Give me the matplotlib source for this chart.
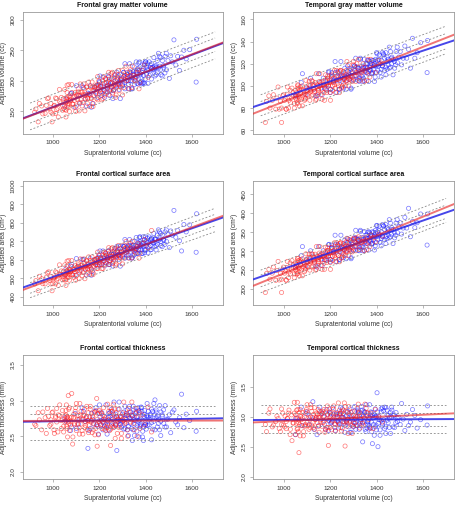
import matplotlib
matplotlib.use('Agg')
import matplotlib.pyplot as plt

plt.rcParams['font.family'] = ['Liberation Sans', 'DejaVu Sans']

# ---------------- data ----------------
x_women = [920, 935, 950, 965, 975, 985, 990, 998, 1005, 1010,
           1015, 1022, 1028, 1035, 1040, 1045, 1050, 1052, 1055, 1058,
           1060, 1062, 1065, 1068, 1070, 1075, 1080, 1084, 1088, 1092,
           1095, 1100, 1104, 1108, 1112, 1115, 1120, 1124, 1128, 1132,
           1135, 1140, 1144, 1148, 1152, 1155, 1160, 1164, 1168, 1172,
           1175, 1180, 1184, 1188, 1192, 1196, 1200, 1205, 1210, 1214,
           1218, 1222, 1226, 1230, 1235, 1240, 1244, 1248, 1252, 1256,
           1260, 1264, 1268, 1272, 1276, 1280, 1285, 1290, 1295, 1300,
           1305, 1310, 1316, 1322, 1328, 1335, 1342, 1350, 1358, 1366,
           1375, 1385, 1395, 1410, 1425, 1060, 1150, 1190, 1250, 1270,
           925, 940, 955, 970, 980, 990, 995, 1003, 1010, 1015,
           1020, 1027, 1033, 1040, 1045, 1050, 1055, 1057, 1060, 1063,
           1065, 1067, 1070, 1073, 1075, 1080, 1085, 1089, 1093, 1097,
           1100, 1105, 1109, 1113, 1117, 1120, 1125, 1129, 1133, 1137,
           1140, 1145, 1149, 1153, 1157, 1160, 1165, 1169, 1173, 1177,
           1180, 1185, 1189, 1193, 1197, 1201, 1205, 1210, 1215, 1219,
           1223, 1227, 1231, 1235, 1240, 1245, 1249, 1253, 1257, 1261,
           1265, 1269, 1273, 1277, 1281, 1285, 1290, 1295, 1300, 1305,
           1310, 1315, 1321, 1327, 1333, 1340, 1347, 1355, 1363, 1371]

x_men = [1050, 1075, 1095, 1110, 1125, 1138, 1150, 1160, 1170, 1180,
         1188, 1195, 1202, 1210, 1216, 1222, 1228, 1234, 1240, 1246,
         1252, 1258, 1264, 1270, 1275, 1280, 1285, 1290, 1295, 1300,
         1305, 1310, 1315, 1320, 1325, 1330, 1334, 1338, 1342, 1346,
         1350, 1354, 1358, 1362, 1366, 1370, 1374, 1378, 1382, 1386,
         1390, 1394, 1398, 1402, 1406, 1410, 1415, 1420, 1425, 1430,
         1435, 1440, 1445, 1450, 1455, 1460, 1466, 1472, 1478, 1484,
         1490, 1496, 1502, 1508, 1515, 1522, 1530, 1538, 1546, 1555,
         1565, 1575, 1590, 1620, 1618, 1360, 1380, 1400, 1290, 1260,
         1320, 1340, 1370, 1390, 1420, 1440, 1235, 1200, 1310, 1465,
         1055, 1080, 1100, 1115, 1130, 1143, 1155, 1165, 1175, 1185,
         1193, 1200, 1207, 1215, 1221, 1227, 1233, 1239, 1245, 1251,
         1257, 1263, 1269, 1275, 1280, 1285, 1290, 1295, 1300, 1305,
         1310, 1315, 1320, 1325, 1330, 1335, 1339, 1343, 1347, 1351,
         1355, 1359, 1363, 1367, 1371, 1375, 1379, 1383, 1387, 1391,
         1395, 1399, 1403, 1407, 1411, 1415, 1420, 1425, 1430, 1435,
         1440, 1445, 1450, 1455, 1460, 1465, 1471, 1477, 1483, 1489,
         1325, 1345, 1375, 1395, 1425, 1445, 1240, 1205]

fgmv_women = [149, 133, 159, 147, 171, 154, 163, 146, 160, 172,
              153, 141, 166, 173, 160, 155, 186, 164, 152, 171,
              181, 162, 157, 175, 150, 169, 194, 162, 173, 168,
              181, 159, 178, 187, 151, 176, 169, 182, 165, 195,
              176, 171, 190, 163, 184, 178, 190, 172, 198, 158,
              185, 191, 180, 171, 207, 189, 179, 192, 169, 200,
              186, 196, 204, 180, 192, 177, 203, 197, 188, 214,
              184, 195, 201, 177, 206, 210, 194, 190, 202, 217,
              189, 209, 200, 214, 187, 209, 224, 201, 207, 218,
              197, 217, 226, 206, 220, 193, 171, 194, 212, 173,
              154, 163, 146, 160, 172, 149, 133, 159, 147, 171,
              155, 186, 164, 152, 171, 153, 141, 166, 173, 160,
              169, 194, 162, 173, 168, 181, 162, 157, 175, 150,
              176, 169, 182, 165, 195, 181, 159, 178, 187, 151,
              178, 190, 172, 198, 158, 176, 171, 190, 163, 184,
              189, 179, 192, 169, 200, 185, 191, 180, 171, 207,
              177, 203, 197, 188, 214, 186, 196, 204, 180, 192,
              210, 194, 190, 202, 217, 184, 195, 201, 177, 206,
              209, 224, 201, 207, 218, 189, 209, 200, 214, 187]
fgmv_men = [159, 179, 157, 176, 192, 170, 180, 192, 163, 189,
            182, 193, 208, 176, 190, 173, 197, 191, 206, 184,
            198, 171, 205, 192, 214, 196, 186, 210, 203, 194,
            214, 187, 205, 210, 194, 228, 200, 207, 187, 215,
            223, 205, 214, 196, 220, 203, 231, 211, 195, 217,
            209, 226, 203, 222, 218, 196, 231, 211, 228, 218,
            238, 208, 225, 213, 245, 224, 210, 233, 221, 240,
            218, 233, 204, 241, 231, 267, 226, 240, 217, 239,
            250, 236, 251, 268, 198, 216, 198, 231, 202, 184,
            211, 200, 229, 197, 222, 220, 182, 199, 197, 219,
            170, 180, 192, 163, 189, 159, 179, 157, 176, 192,
            173, 197, 191, 206, 184, 182, 193, 208, 176, 190,
            196, 186, 210, 203, 194, 198, 171, 205, 192, 214,
            228, 200, 207, 187, 215, 214, 187, 205, 210, 194,
            203, 231, 211, 195, 217, 223, 205, 214, 196, 220,
            196, 231, 211, 228, 218, 209, 226, 203, 222, 218,
            224, 210, 233, 221, 240, 238, 208, 225, 213, 245,
            200, 211, 197, 229, 220, 222, 199, 182]

tgmv_women = [67, 91, 87, 79, 99, 86, 80, 92, 89, 79,
              92, 87, 85, 98, 91, 80, 96, 89, 94, 84,
              100, 92, 87, 89, 99, 97, 82, 96, 93, 88,
              105, 92, 97, 101, 87, 96, 91, 104, 100, 95,
              103, 88, 101, 94, 100, 111, 92, 97, 104, 101,
              87, 110, 96, 107, 101, 105, 94, 109, 100, 103,
              114, 98, 108, 102, 106, 94, 114, 109, 100, 113,
              106, 109, 104, 122, 109, 100, 114, 105, 108, 119,
              114, 104, 112, 124, 108, 112, 120, 117, 105, 113,
              124, 119, 112, 123, 120, 101, 96, 107, 99, 110,
              86, 80, 92, 89, 79, 67, 91, 87, 79, 99,
              80, 96, 89, 94, 84, 92, 87, 85, 98, 91,
              97, 82, 96, 93, 88, 100, 92, 87, 89, 99,
              96, 91, 104, 100, 95, 105, 92, 97, 101, 87,
              111, 92, 97, 104, 101, 103, 88, 101, 94, 100,
              105, 94, 109, 100, 103, 87, 110, 96, 107, 101,
              94, 114, 109, 100, 113, 114, 98, 108, 102, 106,
              100, 114, 105, 108, 119, 106, 109, 104, 122, 109,
              112, 120, 117, 105, 113, 114, 104, 112, 124, 108]
tgmv_men = [91, 103, 92, 98, 101, 91, 111, 98, 107, 97,
            105, 113, 97, 109, 104, 112, 94, 112, 105, 122,
            109, 98, 112, 105, 118, 110, 116, 97, 113, 106,
            118, 109, 117, 105, 113, 125, 109, 116, 107, 124,
            114, 120, 112, 123, 104, 117, 120, 111, 123, 115,
            120, 108, 118, 129, 114, 124, 112, 123, 118, 128,
            125, 110, 122, 119, 135, 117, 126, 124, 116, 131,
            121, 126, 131, 119, 125, 136, 125, 133, 116, 143,
            125, 130, 139, 141, 112, 116, 111, 130, 115, 107,
            116, 104, 122, 118, 115, 130, 108, 97, 117, 120,
            91, 111, 98, 107, 97, 91, 103, 92, 98, 101,
            112, 94, 112, 105, 122, 105, 113, 97, 109, 104,
            110, 116, 97, 113, 106, 109, 98, 112, 105, 118,
            125, 109, 116, 107, 124, 118, 109, 117, 105, 113,
            117, 120, 111, 123, 115, 114, 120, 112, 123, 104,
            124, 112, 123, 118, 128, 120, 108, 118, 129, 114,
            117, 126, 124, 116, 131, 125, 110, 122, 119, 135,
            104, 116, 118, 122, 130, 115, 97, 108]

fsa_women = [469, 432, 497, 469, 529, 487, 510, 470, 505, 534,
             490, 461, 522, 539, 510, 498, 572, 521, 491, 538,
             563, 517, 504, 549, 489, 535, 595, 519, 547, 534,
             567, 514, 560, 582, 497, 556, 541, 572, 530, 604,
             560, 547, 593, 528, 579, 566, 594, 553, 615, 519,
             584, 601, 573, 552, 641, 596, 572, 606, 551, 625,
             592, 617, 636, 580, 609, 573, 636, 623, 602, 665,
             591, 619, 636, 577, 648, 659, 620, 611, 639, 676,
             609, 658, 637, 672, 608, 661, 699, 644, 660, 687,
             636, 687, 709, 664, 758, 592, 549, 608, 659, 567,
             487, 510, 470, 505, 534, 469, 432, 497, 469, 529,
             498, 572, 521, 491, 538, 490, 461, 522, 539, 510,
             535, 595, 519, 547, 534, 563, 517, 504, 549, 489,
             556, 541, 572, 530, 604, 567, 514, 560, 582, 497,
             566, 594, 553, 615, 519, 560, 547, 593, 528, 579,
             596, 572, 606, 551, 625, 584, 601, 573, 552, 641,
             573, 636, 623, 602, 665, 592, 617, 636, 580, 609,
             659, 620, 611, 639, 676, 591, 619, 636, 577, 648,
             661, 699, 644, 660, 687, 609, 658, 637, 672, 608]
fsa_men = [517, 566, 516, 564, 602, 550, 575, 606, 538, 600,
           583, 612, 647, 573, 607, 566, 624, 609, 647, 594,
           629, 565, 646, 616, 671, 626, 602, 660, 645, 624,
           672, 608, 651, 664, 626, 709, 641, 658, 610, 678,
           698, 656, 678, 633, 693, 651, 720, 672, 633, 687,
           669, 708, 655, 700, 690, 637, 723, 676, 716, 692,
           741, 670, 710, 683, 761, 711, 676, 733, 704, 750,
           698, 735, 665, 755, 732, 866, 721, 757, 702, 647,
           790, 750, 788, 848, 640, 658, 690, 650, 674, 629,
           621, 676, 654, 724, 653, 711, 610, 574, 674, 698,
           550, 575, 606, 538, 600, 517, 566, 516, 564, 602,
           566, 624, 609, 647, 594, 583, 612, 647, 573, 607,
           626, 602, 660, 645, 624, 629, 565, 646, 616, 671,
           709, 641, 658, 610, 678, 672, 608, 651, 664, 626,
           651, 720, 672, 633, 687, 698, 656, 678, 633, 693,
           637, 723, 676, 716, 692, 669, 708, 655, 700, 690,
           711, 676, 733, 704, 750, 741, 670, 710, 683, 761,
           676, 621, 724, 654, 711, 653, 574, 610]

tsa_women = [191, 252, 242, 223, 273, 241, 226, 258, 249, 224,
             257, 245, 240, 275, 256, 230, 269, 251, 265, 240,
             280, 260, 246, 254, 277, 274, 235, 271, 264, 250,
             293, 260, 274, 283, 250, 272, 258, 292, 283, 271,
             292, 252, 286, 268, 284, 312, 263, 277, 295, 288,
             252, 310, 276, 302, 288, 297, 270, 309, 286, 295,
             322, 282, 308, 292, 303, 272, 322, 312, 288, 320,
             303, 312, 298, 334, 312, 288, 324, 300, 310, 331,
             326, 301, 320, 338, 312, 322, 335, 328, 304, 324,
             343, 336, 325, 345, 340, 281, 272, 302, 284, 314,
             241, 226, 258, 249, 224, 191, 252, 242, 223, 273,
             230, 269, 251, 265, 240, 257, 245, 240, 275, 256,
             274, 235, 271, 264, 250, 280, 260, 246, 254, 277,
             272, 258, 292, 283, 271, 293, 260, 274, 283, 250,
             312, 263, 277, 295, 288, 292, 252, 286, 268, 284,
             297, 270, 309, 286, 295, 252, 310, 276, 302, 288,
             272, 322, 312, 288, 320, 322, 282, 308, 292, 303,
             288, 324, 300, 310, 331, 303, 312, 298, 334, 312,
             322, 335, 328, 304, 324, 326, 301, 320, 338, 312]
tsa_men = [258, 288, 262, 277, 287, 261, 312, 279, 301, 277,
           298, 318, 278, 308, 296, 317, 272, 316, 299, 342,
           310, 283, 318, 301, 333, 313, 329, 280, 323, 304,
           336, 313, 332, 302, 324, 355, 313, 330, 310, 352,
           326, 342, 321, 350, 303, 335, 343, 319, 351, 330,
           343, 314, 338, 367, 330, 355, 323, 351, 340, 366,
           357, 320, 349, 342, 383, 338, 362, 357, 335, 374,
           349, 364, 375, 345, 361, 389, 361, 413, 338, 378,
           362, 375, 398, 398, 316, 333, 319, 368, 327, 305,
           330, 301, 348, 338, 333, 370, 308, 278, 334, 345,
           261, 312, 279, 301, 277, 258, 288, 262, 277, 287,
           317, 272, 316, 299, 342, 298, 318, 278, 308, 296,
           313, 329, 280, 323, 304, 310, 283, 318, 301, 333,
           355, 313, 330, 310, 352, 336, 313, 332, 302, 324,
           335, 343, 319, 351, 330, 326, 342, 321, 350, 303,
           355, 323, 351, 340, 366, 343, 314, 338, 367, 330,
           338, 362, 357, 335, 374, 357, 320, 349, 342, 383,
           301, 330, 338, 348, 370, 333, 278, 308]

fth_women = [2.67, 2.83, 2.59, 2.76, 2.89, 2.65, 2.73, 2.84, 2.54, 2.78,
             2.70, 2.80, 2.94, 2.61, 2.74, 2.56, 2.79, 2.72, 2.86, 2.64,
             2.77, 2.49, 3.07, 2.68, 2.90, 2.71, 3.10, 2.39, 2.76, 2.66,
             2.85, 2.58, 2.74, 2.79, 2.62, 2.96, 2.67, 2.73, 2.53, 2.80,
             2.88, 2.70, 2.78, 2.59, 2.83, 2.65, 2.92, 2.72, 2.55, 2.77,
             2.68, 2.84, 2.61, 3.03, 2.74, 2.52, 2.86, 2.66, 2.82, 2.71,
             2.90, 2.60, 2.76, 2.64, 2.95, 2.73, 2.58, 2.37, 2.67, 2.85,
             2.62, 2.77, 2.47, 2.83, 2.72, 2.88, 2.65, 2.78, 2.54, 2.74,
             2.98, 2.68, 2.82, 2.50, 2.84, 2.70, 2.79, 2.59, 2.89, 2.76,
             2.61, 2.80, 2.66, 2.91, 2.56, 2.77, 2.72, 2.36, 2.85, 2.67,
             2.65, 2.73, 2.84, 2.54, 2.78, 2.67, 2.83, 2.59, 2.76, 2.89,
             2.56, 2.79, 2.72, 2.86, 2.64, 2.70, 2.80, 2.94, 2.61, 2.74,
             2.71, 2.88, 2.58, 2.76, 2.66, 2.77, 2.49, 2.81, 2.68, 2.90,
             2.96, 2.67, 2.73, 2.53, 2.80, 2.85, 2.58, 2.74, 2.79, 2.62,
             2.65, 2.92, 2.72, 2.55, 2.77, 2.88, 2.70, 2.78, 2.59, 2.83,
             2.52, 2.86, 2.66, 2.82, 2.71, 2.68, 2.84, 2.61, 2.79, 2.74,
             2.73, 2.58, 2.62, 2.67, 2.85, 2.90, 2.60, 2.76, 2.64, 2.95,
             2.88, 2.65, 2.78, 2.54, 2.74, 2.62, 2.77, 2.47, 2.83, 2.72,
             2.70, 2.79, 2.59, 2.89, 2.76, 2.98, 2.68, 2.82, 2.50, 2.84]
fth_men = [2.76, 2.58, 2.82, 2.67, 2.90, 2.71, 2.33, 2.61, 2.74, 2.85,
           2.66, 2.53, 2.77, 2.83, 2.70, 2.64, 2.94, 2.72, 2.59, 2.78,
           2.88, 2.68, 2.63, 2.81, 2.30, 2.74, 2.98, 2.66, 2.77, 2.71,
           2.84, 2.61, 2.79, 2.87, 2.51, 2.75, 2.68, 2.80, 2.44, 2.92,
           2.73, 2.67, 2.85, 2.57, 2.78, 2.72, 2.83, 2.65, 2.90, 2.49,
           2.44, 2.81, 2.69, 2.60, 2.96, 2.77, 2.66, 2.79, 2.45, 2.85,
           2.71, 2.80, 2.87, 2.63, 2.74, 2.59, 2.84, 2.78, 2.68, 2.93,
           2.63, 2.74, 2.80, 2.55, 2.84, 2.87, 2.70, 2.66, 2.76, 3.09,
           2.62, 2.81, 2.72, 2.85, 2.57, 2.77, 2.91, 2.67, 2.72, 2.81,
           2.59, 2.78, 2.86, 2.64, 2.76, 3.01, 2.65, 2.82, 2.92, 2.51,
           2.71, 2.63, 2.61, 2.74, 2.85, 2.76, 2.58, 2.82, 2.67, 2.90,
           2.64, 2.94, 2.72, 2.59, 2.78, 2.66, 2.53, 2.77, 2.83, 2.70,
           2.74, 2.98, 2.66, 2.77, 2.71, 2.88, 2.68, 2.63, 2.81, 2.60,
           2.75, 2.68, 2.80, 2.64, 2.92, 2.84, 2.61, 2.79, 2.87, 2.51,
           2.72, 2.83, 2.65, 2.90, 2.49, 2.73, 2.67, 2.85, 2.57, 2.78,
           2.77, 2.66, 2.79, 2.65, 2.85, 2.74, 2.81, 2.69, 2.60, 2.96,
           2.59, 2.84, 2.78, 2.68, 2.93, 2.71, 2.80, 2.87, 2.63, 2.74,
           2.78, 2.59, 2.64, 2.86, 2.88, 2.76, 2.82, 2.65]

tth_women = [2.87, 3.06, 2.83, 2.92, 2.97, 2.75, 3.13, 2.86, 3.01, 2.80,
             2.97, 3.11, 2.79, 2.60, 2.90, 3.06, 2.70, 3.03, 2.89, 3.24,
             2.98, 2.75, 2.40, 2.87, 3.12, 2.95, 3.07, 2.68, 3.00, 2.85,
             3.09, 2.90, 3.04, 2.79, 2.96, 3.20, 2.86, 2.99, 2.82, 3.15,
             2.95, 3.06, 2.90, 3.12, 2.74, 2.99, 3.04, 2.84, 3.09, 2.92,
             3.01, 2.78, 2.96, 3.18, 2.52, 3.08, 2.82, 3.03, 2.93, 3.13,
             3.06, 2.76, 2.98, 2.92, 3.23, 2.87, 3.05, 3.00, 2.81, 3.11,
             2.91, 2.51, 3.09, 2.84, 2.96, 3.17, 2.93, 3.07, 2.72, 3.02,
             2.89, 2.98, 3.14, 3.06, 2.81, 3.01, 2.86, 3.21, 3.07, 2.95,
             3.06, 2.80, 3.12, 3.00, 2.91, 3.12, 2.99, 2.82, 3.09, 2.92,
             2.75, 3.13, 2.86, 3.01, 2.80, 2.87, 3.06, 2.83, 2.92, 2.97,
             3.06, 2.70, 3.03, 2.89, 3.24, 2.97, 3.11, 2.79, 2.80, 2.90,
             2.95, 3.07, 2.68, 3.00, 2.85, 2.98, 2.75, 2.84, 2.87, 3.12,
             3.20, 2.86, 2.99, 2.82, 3.15, 3.09, 2.90, 3.04, 2.79, 2.96,
             2.99, 3.04, 2.84, 3.09, 2.92, 2.95, 3.06, 2.90, 3.12, 2.74,
             3.08, 2.82, 3.03, 2.93, 3.13, 3.01, 2.78, 2.96, 3.18, 2.88,
             2.87, 3.05, 3.00, 2.81, 3.11, 3.06, 2.76, 2.98, 2.92, 3.23,
             3.17, 2.93, 3.07, 2.72, 3.02, 2.91, 2.86, 3.09, 2.84, 2.96,
             3.01, 2.86, 3.21, 3.07, 2.95, 2.89, 2.98, 3.14, 3.06, 2.81]
tth_men = [2.70, 3.16, 3.05, 2.87, 3.25, 2.98, 2.85, 3.08, 3.00, 2.79,
           3.04, 2.94, 2.89, 3.15, 2.99, 2.77, 3.07, 2.92, 3.03, 2.82,
           3.13, 2.98, 2.86, 2.91, 3.09, 3.05, 2.74, 3.02, 2.95, 2.83,
           3.17, 2.90, 3.00, 3.07, 2.79, 2.96, 2.85, 3.11, 3.03, 2.92,
           3.08, 2.75, 3.02, 2.87, 2.99, 3.20, 2.81, 2.91, 2.55, 2.98,
           2.69, 3.13, 2.86, 3.40, 2.50, 3.00, 2.78, 3.08, 2.89, 2.95,
           3.16, 2.83, 3.03, 2.90, 2.98, 2.72, 3.11, 3.02, 2.82, 3.07,
           2.92, 2.99, 2.87, 3.22, 2.96, 2.77, 3.04, 2.85, 2.91, 3.12,
           3.02, 2.81, 2.95, 3.18, 2.86, 2.92, 3.07, 3.00, 2.74, 2.89,
           3.09, 2.58, 2.83, 3.03, 2.94, 3.15, 2.90, 3.05, 2.79, 2.99,
           2.98, 2.85, 3.08, 3.00, 2.79, 2.70, 3.16, 3.05, 2.87, 3.12,
           2.77, 3.07, 2.92, 3.03, 2.82, 3.04, 2.94, 2.89, 3.15, 2.99,
           3.05, 2.74, 3.02, 2.95, 2.83, 3.13, 2.98, 2.86, 2.91, 3.09,
           2.96, 2.85, 3.11, 3.03, 2.92, 3.17, 2.90, 3.00, 3.07, 2.79,
           3.20, 2.81, 2.91, 2.85, 2.98, 3.08, 2.75, 3.02, 2.87, 2.99,
           3.00, 2.78, 3.08, 2.89, 2.95, 2.69, 3.13, 2.86, 3.10, 2.80,
           2.72, 3.11, 3.02, 2.82, 3.07, 3.16, 2.83, 3.03, 2.90, 2.98,
           2.88, 3.09, 3.03, 2.83, 3.15, 2.94, 3.05, 2.90]

# fitted lines: value at x = 900 and x = 1700
fit_x = [900, 1700]
fgmv_fit_women = [142.6, 257.8]
fgmv_fit_men = [143.2, 256.8]
tgmv_fit_women = [77.6, 143.4]
tgmv_fit_men = [83.2, 138.7]
fsa_fit_women = [450.8, 821.0]
fsa_fit_men = [463.0, 813.0]
tsa_fit_women = [216.7, 415.7]
tsa_fit_men = [232.4, 401.8]
fth_fit_women = [2.715, 2.720]
fth_fit_men = [2.705, 2.750]
tth_fit_women = [2.910, 3.050]
tth_fit_men = [2.945, 2.960]

# dashed reference bands: (value at 900, value at 1700)
band_x = [900, 1700]
fgmv_bands = [(163.7, 280.0), (152.8, 270.0), (131.0, 248.0), (120.0, 236.0)]
tgmv_bands = [(92.0, 154.0), (85.9, 147.3), (73.0, 133.5), (66.8, 129.1)]
fsa_bands = [(499.5, 877.8), (475.7, 845.0), (418.4, 782.0), (394.6, 751.0)]
tsa_bands = [(250.0, 439.0), (237.0, 421.6), (206.0, 386.6), (190.4, 376.0)]
fth_bands = [(2.92, 2.92), (2.81, 2.81), (2.62, 2.62), (2.45, 2.45)]
tth_bands = [(3.19, 3.19), (3.06, 3.06), (2.85, 2.85), (2.72, 2.72)]

titles = ["Frontal gray matter volume", "Temporal gray matter volume",
          "Frontal cortical surface area", "Temporal cortical surface area",
          "Frontal cortical thickness", "Temporal cortical thickness"]
ylabels = ["Adjusted volume (cc)", "Adjusted volume (cc)",
           "Adjusted area (cm²)", "Adjusted area (cm²)",
           "Adjusted thickness (mm)", "Adjusted thickness (mm)"]
xlabel = "Supratentorial volume (cc)"
xticks = [1000, 1200, 1400, 1600]
yticks_list = [[150, 200, 250, 300], [60, 80, 100, 120, 140, 160],
               [400, 500, 600, 700, 800, 900, 1000], [200, 250, 300, 350, 400, 450],
               [2.0, 2.5, 3.0, 3.5], [2.0, 2.5, 3.0, 3.5]]
ylims = [(114, 313), (57, 167), (355, 1025), (158, 485), (1.90, 3.64), (1.96, 4.03)]

women_y = [fgmv_women, tgmv_women, fsa_women, tsa_women, fth_women, tth_women]
men_y = [fgmv_men, tgmv_men, fsa_men, tsa_men, fth_men, tth_men]
fits_w = [fgmv_fit_women, tgmv_fit_women, fsa_fit_women, tsa_fit_women, fth_fit_women, tth_fit_women]
fits_m = [fgmv_fit_men, tgmv_fit_men, fsa_fit_men, tsa_fit_men, fth_fit_men, tth_fit_men]
bands_all = [fgmv_bands, tgmv_bands, fsa_bands, tsa_bands, fth_bands, tth_bands]

# ---------------- layout ----------------
W, H = 455, 505
fig = plt.figure(figsize=(W / 100, H / 100), dpi=100)
fig.patch.set_facecolor('white')

cols = [(22.7, 222.5), (253.3, 453.5)]
rows = [(11.7, 133.5), (181.0, 305.0), (355.0, 479.0)]

frame_col = '#9a9a9a'
text_col = '#333333'

for i in range(6):
    r, c = divmod(i, 2)
    l, rr = cols[c]
    t, b = rows[r]
    ax = fig.add_axes([l / W, 1 - b / H, (rr - l) / W, (b - t) / H])

    ax.scatter(x_men, men_y[i], s=9, facecolors='none',
               edgecolors=(0.1, 0.1, 1.0, 0.6), linewidths=0.5, zorder=2)
    ax.scatter(x_women, women_y[i], s=9, facecolors='none',
               edgecolors=(1.0, 0.1, 0.1, 0.6), linewidths=0.5, zorder=3)

    for lo, hi in bands_all[i]:
        ax.plot(band_x, [lo, hi], color='#8a8a8a', lw=0.6,
                linestyle=(0, (2.2, 2.2)), zorder=4)

    ax.axline((fit_x[0], fits_m[i][0]), (fit_x[1], fits_m[i][1]),
              color=(0.15, 0.15, 0.9, 0.85), lw=1.4, zorder=5)
    ax.axline((fit_x[0], fits_w[i][0]), (fit_x[1], fits_w[i][1]),
              color=(0.9, 0.1, 0.1, 0.6), lw=1.4, zorder=6)

    ax.set_xlim(868, 1732)
    ax.set_ylim(*ylims[i])
    ax.set_xticks(xticks)
    ax.set_yticks(yticks_list[i])
    if i >= 4:
        ax.set_yticklabels([f"{v:.1f}" for v in yticks_list[i]])

    for sp in ax.spines.values():
        sp.set_color(frame_col)
        sp.set_linewidth(0.6)
    ax.tick_params(length=2.5, width=0.5, color=frame_col, labelsize=4.6,
                   labelcolor=text_col, pad=2.5)
    ax.tick_params(axis='y', labelrotation=90)
    for lab in ax.get_yticklabels():
        lab.set_va('center')

    ax.set_title(titles[i], fontsize=5, fontweight='bold', color='#111111', pad=3.5)
    ax.set_xlabel(xlabel, fontsize=4.8, color=text_col, labelpad=3)
    ax.set_ylabel(ylabels[i], fontsize=4.8, color=text_col, labelpad=2.5)

fig.savefig('out.png', dpi=100, facecolor='white')
